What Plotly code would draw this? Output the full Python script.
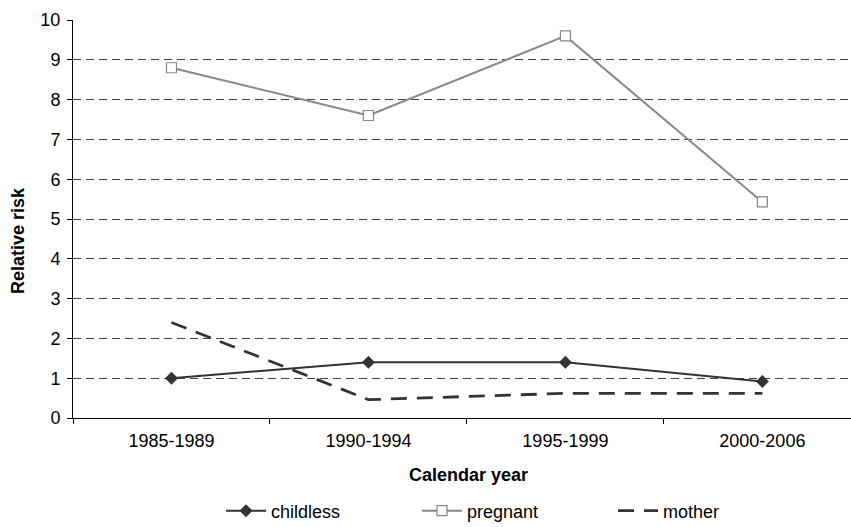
import plotly.graph_objects as go

categories = ["1985-1989", "1990-1994", "1995-1999", "2000-2006"]
childless = [1.0, 1.4, 1.4, 0.92]
pregnant = [8.8, 7.6, 9.6, 5.43]
mother = [2.4, 0.46, 0.62, 0.62]
y_ticks = list(range(0, 11))

font = "Liberation Sans, Arial, sans-serif"

fig = go.Figure()
fig.add_trace(go.Scatter(
    x=categories, y=childless, name="childless", mode="lines+markers",
    line=dict(color="#333333", width=2),
    marker=dict(symbol="diamond", size=10, color="#333333"),
))
fig.add_trace(go.Scatter(
    x=categories, y=pregnant, name="pregnant", mode="lines+markers",
    line=dict(color="#888888", width=2),
    marker=dict(symbol="square", size=10, color="white",
                line=dict(color="#888888", width=1.2)),
))
fig.add_trace(go.Scatter(
    x=categories, y=mother, name="mother", mode="lines",
    line=dict(color="#333333", width=2.8, dash="16px,10px"),
))

fig.update_layout(
    width=851, height=527,
    margin=dict(l=73, r=0, t=20, b=109, autoexpand=False),
    paper_bgcolor="white", plot_bgcolor="white",
    font=dict(family=font, size=18, color="black"),
    showlegend=True,
    legend=dict(orientation="h", x=(221 - 73) / 778, xanchor="left",
                yref="container", y=(527 - 511) / 527, yanchor="middle",
                font=dict(size=18), entrywidthmode="pixels", entrywidth=141,
                itemwidth=40, tracegroupgap=0, bgcolor="rgba(0,0,0,0)"),
    xaxis=dict(
        type="category", range=[-0.5, 3.45],
        tickson="boundaries", ticks="outside", ticklen=5,
        tickcolor="black", showline=True, linecolor="black", linewidth=1,
        showgrid=False, zeroline=False, automargin=False,
        tickfont=dict(size=18), ticklabelstandoff=6,
    ),
    yaxis=dict(
        range=[0, 10], tickvals=y_ticks, ticks="outside", ticklen=5,
        tickcolor="black", showline=True, linecolor="black", linewidth=1,
        showgrid=True, gridcolor="#444444", griddash="8px,5px", gridwidth=1,
        zeroline=False, automargin=False,
        tickfont=dict(size=18), ticklabelstandoff=3,
    ),
    annotations=[
        dict(text="<b>Calendar year</b>", xref="paper", yref="paper",
             x=(468 - 73) / 778, y=(418 - 475) / 398, showarrow=False,
             xanchor="center", yanchor="middle", font=dict(size=18)),
        dict(text="<b>Relative risk</b>", xref="paper", yref="paper",
             x=(18 - 73) / 778, y=(418 - 240) / 398, showarrow=False,
             textangle=-90, xanchor="center", yanchor="middle",
             font=dict(size=18)),
    ],
)

fig.write_html(
    "out.html",
    config={"displayModeBar": False},
    post_script="document.body.style.margin='0px';document.body.style.overflow='hidden';",
)
